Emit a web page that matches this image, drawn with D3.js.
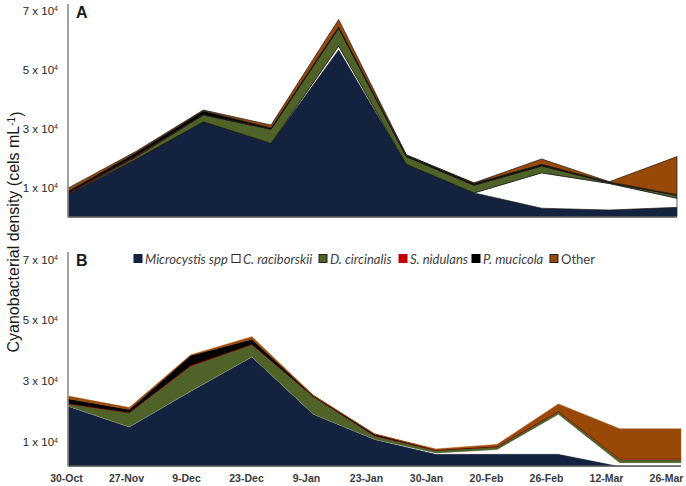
<!DOCTYPE html>
<html><head><meta charset="utf-8">
<script src="https://cdn.jsdelivr.net/npm/d3@7"></script>
<style>
html,body{margin:0;padding:0;background:#fff;}
svg{display:block;}
</style></head>
<body>
<svg id="chart" width="686" height="486"></svg>
<script>
// ---------- data ----------
const seriesNames = ["Microcystis spp", "C. raciborskii", "D. circinalis", "S. nidulans", "P. mucicola", "Other"];
const dates = ["30-Oct", "27-Nov", "9-Dec", "23-Dec", "9-Jan", "23-Jan", "30-Jan", "20-Feb", "26-Feb", "12-Mar", "26-Mar"];
const topSamples = [1, 2, 3, 4, 5, 6, 7, 8, 9, 10];

// Panel A (cells/mL)
const topMicrocystis = [7300, 19300, 32100, 24800, 56400, 17700, 8000, 2800, 2200, 3100];
const topCylindro    = [0, 0, 0, 0, 1400, 0, 0, 12000, 9000, 3100];
const topDolicho     = [200, 800, 2300, 4800, 6000, 2600, 2600, 2300, 200, 1000];
const topSynecho     = [400, 400, 200, 100, 200, 100, 100, 200, 100, 50];
const topPseud       = [600, 1000, 1200, 300, 300, 400, 500, 400, 200, 150];
const topOther       = [1100, 500, 300, 1000, 2500, 100, 200, 1800, 100, 12900];

// Panel B (cells/mL)
const botMicrocystis = [21700, 14900, 26600, 37900, 19100, 10800, 6000, 6000, 6000, 0, 0];
const botCylindro    = [0, 0, 0, 0, 0, 0, 300, 1400, 13000, 3100, 3100];
const botDolicho     = [700, 4600, 8200, 4000, 5800, 1100, 800, 900, 800, 1100, 1100];
const botSynecho     = [100, 100, 200, 100, 0, 100, 100, 100, 200, 300, 300];
const botPseud       = [1600, 1000, 3300, 1600, 300, 500, 100, 100, 100, 0, 0];
const botOther       = [900, 600, 200, 900, 100, 100, 300, 600, 2300, 9700, 9700];

const yTickValues = [10000, 30000, 50000, 70000];

// ---------- styles ----------
const colors = ["#13233f", "#ffffff", "#4f6228", "#c00000", "#000000", "#984807"];
const legendStroke = ["#13233f", "#222", "#222", "#c00000", "#000", "#222"];

const svg = d3.select("#chart");
const fontSans = "'Liberation Sans', Arial, sans-serif";

function buildRows(arrs, keys) {
  return keys.map((k, i) => {
    const o = {key: k};
    seriesNames.forEach((s, j) => o[s] = arrs[j][i]);
    return o;
  });
}

const topRows = buildRows([topMicrocystis, topCylindro, topDolicho, topSynecho, topPseud, topOther], topSamples);
const botRows = buildRows([botMicrocystis, botCylindro, botDolicho, botSynecho, botPseud, botOther], dates);

const stack = d3.stack().keys(seriesNames);

// ---------- scales ----------
const xTop = d3.scalePoint().domain(topSamples).range([68, 677]);
const yTop = d3.scaleLinear().domain([0, 70000]).range([216.5, 10]);
const xBot = d3.scalePoint().domain(dates).range([68, 681]);
const yBot = d3.scaleLinear().domain([2000, 70000]).range([466, 259]).clamp(true);
const xLab = d3.scalePoint().domain(dates).range([66, 666]);

function drawPanel(rows, x, y, baseY, xEnd, axisTop, letter, strokeAreas) {
  const g = svg.append("g");
  const series = stack(rows);
  const area = d3.area()
    .x(d => x(d.data.key))
    .y0(d => y(d[0]))
    .y1(d => y(d[1]));
  g.selectAll("path.layer").data(series).join("path")
    .attr("class", "layer")
    .attr("d", area)
    .attr("fill", (d, i) => colors[i])
    .attr("stroke", (d, i) => strokeAreas ? "#1a1a1a" : (i === 5 ? "#b0560f" : colors[i]))
    .attr("stroke-width", strokeAreas ? 0.7 : 0.5)
    .attr("stroke-linejoin", "miter");

  // baseline
  g.append("line").attr("x1", 68).attr("x2", xEnd).attr("y1", baseY).attr("y2", baseY)
    .attr("stroke", "#595959").attr("stroke-width", 1.3);
  // y axis line
  g.append("line").attr("x1", 68).attr("x2", 68).attr("y1", axisTop).attr("y2", baseY + 0.6)
    .attr("stroke", "#8c8c8c").attr("stroke-width", 1.6);

  // y axis ticks labels
  const ax = d3.axisLeft(y).tickValues(yTickValues).tickSize(0).tickPadding(0).tickFormat("");
  const axg = g.append("g").attr("transform", "translate(58,0)").call(ax);
  axg.select(".domain").remove();
  axg.selectAll(".tick text").remove();
  axg.selectAll(".tick").append("text")
    .attr("text-anchor", "end")
    .attr("dy", "0.35em")
    .attr("fill", "#262626")
    .style("font-family", fontSans)
    .style("font-size", "11.5px")
    .each(function(d) {
      const t = d3.select(this);
      t.append("tspan").text((d / 10000) + " x 10");
      t.append("tspan").attr("dy", "-0.45em").style("font-size", "7px").text("4");
    });

  // panel letter
  g.append("text").attr("x", 76).attr("y", axisTop + 14)
    .style("font-family", fontSans).style("font-weight", "bold").style("font-size", "16px")
    .attr("fill", "#1a1a1a").text(letter);
}

drawPanel(topRows, xTop, yTop, 217, 677, 4, "A", true);
drawPanel(botRows, xBot, yBot, 466, 681, 252, "B", false);

// x axis labels (bottom)
const xAxis = d3.axisBottom(xLab).tickSize(0).tickPadding(0);
const xg = svg.append("g").attr("transform", "translate(0,475)").call(xAxis);
xg.select(".domain").remove();
xg.selectAll(".tick text")
  .attr("fill", "#3a3a3a")
  .style("font-family", fontSans)
  .style("font-weight", "bold")
  .style("font-size", "10.5px");

// y title
const yt = svg.append("text")
  .attr("transform", "translate(19,232) rotate(-90)")
  .attr("text-anchor", "middle")
  .attr("fill", "#1a1a1a")
  .style("font-family", fontSans)
  .style("font-size", "16px");
yt.append("tspan").text("Cyanobacterial density (cels mL");
yt.append("tspan").attr("dy", "-0.45em").style("font-size", "10px").text("-1");
yt.append("tspan").attr("dy", "0.45em").text(")");

// legend
const legendX = [134, 232, 319, 399, 472, 550];
const lg = svg.append("g").attr("transform", "translate(0,259)");
seriesNames.forEach((s, i) => {
  lg.append("rect").attr("x", legendX[i]).attr("y", -4.5).attr("width", 8).attr("height", 8)
    .attr("fill", colors[i]).attr("stroke", legendStroke[i]).attr("stroke-width", 1);
  lg.append("text").attr("x", legendX[i] + 11).attr("y", 0).attr("dy", "0.35em")
    .attr("fill", "#404040")
    .style("font-family", "Lato, 'Liberation Sans', sans-serif")
    .style("font-size", "13px")
    .style("font-style", i === 5 ? "normal" : "italic")
    .text(s);
});
</script>
</body></html>
